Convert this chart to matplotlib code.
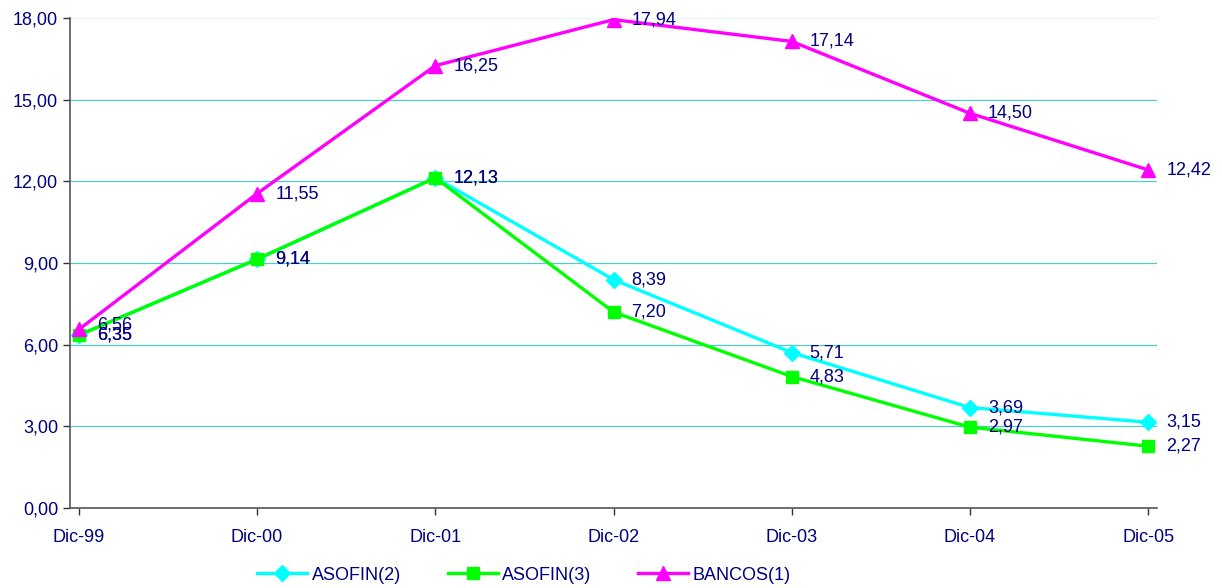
import matplotlib
matplotlib.use("Agg")
import matplotlib.pyplot as plt
from matplotlib.ticker import FuncFormatter

plt.rcParams['font.family'] = ['Liberation Sans', 'DejaVu Sans']

categories = ["Dic-99", "Dic-00", "Dic-01", "Dic-02", "Dic-03", "Dic-04", "Dic-05"]
asofin2 = [6.35, 9.14, 12.13, 8.39, 5.71, 3.69, 3.15]
asofin3 = [6.35, 9.14, 12.13, 7.20, 4.83, 2.97, 2.27]
bancos1 = [6.56, 11.55, 16.25, 17.94, 17.14, 14.50, 12.42]

navy = "#000080"

fig = plt.figure(figsize=(12.22, 5.88), dpi=100)
ax = fig.add_axes([70 / 1222, 1 - 508 / 588, (1157 - 70) / 1222, (508 - 18) / 588])

x = list(range(len(categories)))
series = [
    ("ASOFIN(2)", asofin2, "#00FFFF", "D", 8),
    ("ASOFIN(3)", asofin3, "#00FF00", "s", 9),
    ("BANCOS(1)", bancos1, "#FF00FF", "^", 10),
]

def fmt(v):
    return f"{v:.2f}".replace(".", ",")

for name, vals, col, mk, ms in series:
    ax.plot(x, vals, color=col, lw=2.4, marker=mk, markersize=ms, label=name,
            markeredgecolor=col, zorder=3)

for name, vals, col, mk, ms in series:
    for xi, v in zip(x, vals):
        dy = 0
        if xi == 0 and name == "BANCOS(1)":
            dy = 3
        ax.annotate(fmt(v), (xi, v), xytext=(13, dy), textcoords="offset points",
                    ha="left", va="center", color=navy, fontsize=13, zorder=4)

ax.set_ylim(0, 18)
ax.set_yticks([0, 3, 6, 9, 12, 15, 18])
ax.yaxis.set_major_formatter(FuncFormatter(lambda v, p: fmt(v)))
ax.set_xlim(-0.05, 6.05)
ax.set_xticks(x)
ax.set_xticklabels(categories)

ax.grid(axis="y", color="#50CCCC", lw=0.9, zorder=0)
ax.set_axisbelow(True)
# the top gridline is barely visible
ax.get_ygridlines()[-1].set_color("#E4F6F6")
for s in ["top", "right"]:
    ax.spines[s].set_visible(False)
for s in ["left", "bottom"]:
    ax.spines[s].set_color("#555555")
    ax.spines[s].set_linewidth(1.2)

ax.tick_params(axis="both", colors="#333333", labelcolor=navy, labelsize=13,
               length=5, direction="out", width=1)
ax.tick_params(axis="x", pad=10)

leg = fig.legend(loc="center", bbox_to_anchor=(524 / 1222, 1 - 575 / 588), ncol=3,
                 frameon=False, fontsize=13, handlelength=2.75, columnspacing=2.6,
                 handletextpad=0.25, borderpad=0.2)
for t in leg.get_texts():
    t.set_color(navy)

fig.savefig("out.png", dpi=100)
